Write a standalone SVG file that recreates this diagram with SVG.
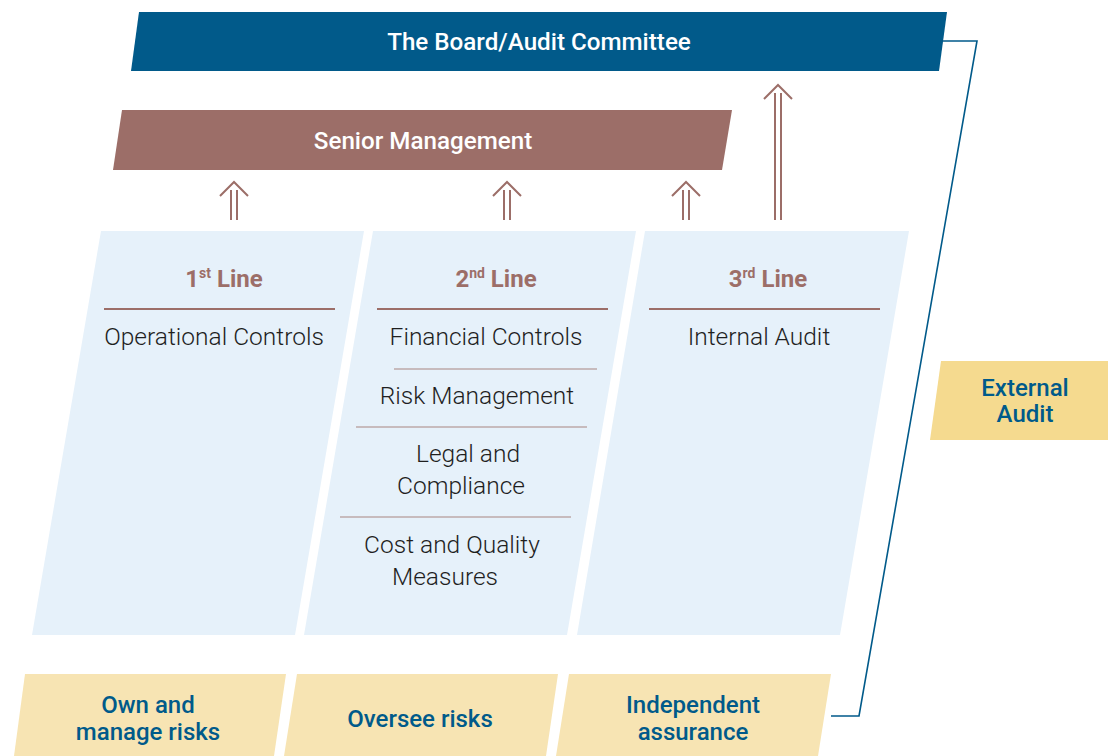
<svg xmlns="http://www.w3.org/2000/svg" width="1108" height="756" viewBox="0 0 1108 756">
<style>
.t{font-family:Roboto,"Liberation Sans",sans-serif;text-anchor:middle}
.head{font-size:24.2px;font-weight:500;fill:#ffffff}
.hdr{font-size:24px;font-weight:700;fill:#9c6e68}
.body{font-size:24.5px;font-weight:300;fill:#1f1f1f}
.blue{font-size:24px;font-weight:500;fill:#005a8a}
.col{fill:#e6f1fa}
.ybox{fill:#f7e4b3}
.rule{stroke:#9c6e68;stroke-width:2}
.thin{stroke:#a88580;stroke-width:1.2}
.arrow{fill:none;stroke:#9c6e68;stroke-width:2}
</style>
<g id="board">
<polygon points="139,12 947,12 939,71 131,71" fill="#015a8a"/>
<text class="t head" x="539" y="50">The Board/Audit Committee</text>
</g>
<g id="senior">
<polygon points="122,110 732,110 722,170 113,170" fill="#9c6e68"/>
<text class="t head" x="423" y="149">Senior Management</text>
</g>
<g id="line1">
<polygon class="col" points="101,231 364,231 295,635 32,635"/>
<text class="t hdr" x="224" y="287">1<tspan font-size="14" dy="-9">st</tspan><tspan dy="9"> Line</tspan></text>
<line class="rule" x1="104" y1="309" x2="335" y2="309"/>
<text class="t body" x="214" y="345">Operational Controls</text>
</g>
<g id="line2">
<polygon class="col" points="373,231 636,231 567,635 304,635"/>
<text class="t hdr" x="496" y="287">2<tspan font-size="14" dy="-9">nd</tspan><tspan dy="9"> Line</tspan></text>
<line class="rule" x1="377" y1="309" x2="608" y2="309"/>
<text class="t body" x="486" y="345">Financial Controls</text>
<line class="thin" x1="394" y1="369" x2="597" y2="369"/>
<text class="t body" x="477" y="404">Risk Management</text>
<line class="thin" x1="356" y1="427" x2="587" y2="427"/>
<text class="t body" x="468" y="462">Legal and</text>
<text class="t body" x="461" y="494">Compliance</text>
<line class="thin" x1="340" y1="517" x2="571" y2="517"/>
<text class="t body" x="452" y="553">Cost and Quality</text>
<text class="t body" x="445" y="585">Measures</text>
</g>
<g id="line3">
<polygon class="col" points="645,231 909,231 840,635 577,635"/>
<text class="t hdr" x="768" y="287">3<tspan font-size="14" dy="-9">rd</tspan><tspan dy="9"> Line</tspan></text>
<line class="rule" x1="649" y1="309" x2="880" y2="309"/>
<text class="t body" x="759" y="345">Internal Audit</text>
</g>
<g id="external">
<polygon points="941,361 1108,361 1108,440 930,440" fill="#f5da8f"/>
<text class="t blue" x="1025" y="396">External</text>
<text class="t blue" x="1025" y="422">Audit</text>
</g>
<g id="own">
<polygon class="ybox" points="25,674 286,674 274,756 14,756"/>
<text class="t blue" x="148" y="713">Own and</text>
<text class="t blue" x="148" y="740">manage risks</text>
</g>
<g id="oversee">
<polygon class="ybox" points="297,674 558,674 546,756 284,756"/>
<text class="t blue" x="420" y="727">Oversee risks</text>
</g>
<g id="independent">
<polygon class="ybox" points="569,674 831,674 818,756 556,756"/>
<text class="t blue" x="693" y="713">Independent</text>
<text class="t blue" x="693" y="740">assurance</text>
</g>
<g id="connectors">
<g class="arrow">
<path d="M231,220V190M237,220V190M220,196L234,182L248,196"/>
<path d="M504,220V190M510,220V190M493,196L507,182L521,196"/>
<path d="M683,220V190M689,220V190M672,196L686,182L700,196"/>
<path d="M775,220V93M781,220V93M764,99L778,85L792,99"/>
</g>
<polyline points="943,41 977,41 859,716 831,716" fill="none" stroke="#015a8a" stroke-width="1.6"/>
</g>
</svg>
